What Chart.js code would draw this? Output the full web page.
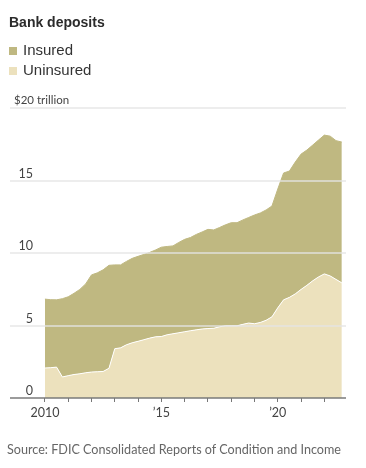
<!DOCTYPE html>
<html>
<head>
<meta charset="utf-8">
<script src="https://cdn.jsdelivr.net/npm/chart.js@4.4.1/dist/chart.umd.min.js"></script>
<style>
  body { margin: 0; background: #fff; }
  #box { position: relative; width: 366px; height: 468px; overflow: hidden; }
  #chart { position: absolute; left: 0; top: 0; }
  .title { position: absolute; left: 9px; top: 14px; font: bold 14px "Liberation Sans", Arial, sans-serif; color: #2b2b2b; }
  .legend { position: absolute; left: 9px; font: 15px "Liberation Sans", Arial, sans-serif; color: #333; }
  .legend span { display: inline-block; width: 8px; height: 8px; margin-right: 6px; vertical-align: 0px; }
  .source { position: absolute; left: 7px; top: 442px; font: 12.6px Lato, sans-serif; color: #666; white-space: nowrap; }
</style>
</head>
<body>
<div id="box">
  <canvas id="chart" width="366" height="468"></canvas>
  <div class="title">Bank deposits</div>
  <div class="legend" style="top:41px"><span style="background:#bfb881"></span>Insured</div>
  <div class="legend" style="top:61px"><span style="background:#ece1bd"></span>Uninsured</div>
  <div class="source">Source: FDIC Consolidated Reports of Condition and Income</div>
</div>
<script>
// quarterly, 2010 Q1 .. 2022 Q4 (trillions of dollars)
const quarters = [];
for (let yr = 2010; yr <= 2022; yr++) {
  for (let q = 0; q < 4; q++) quarters.push(yr + q / 4);
}

const uninsured = [
  2.07, 2.09, 2.13, 1.45, 1.54, 1.62, 1.67, 1.74, 1.79, 1.81, 1.83, 2.05,
  3.40, 3.46, 3.67, 3.81, 3.91, 4.02, 4.13, 4.22, 4.24, 4.36, 4.43, 4.50,
  4.57, 4.64, 4.70, 4.76, 4.79, 4.81, 4.91, 4.98, 4.98, 4.98, 5.08, 5.17,
  5.12, 5.21, 5.36, 5.60, 6.22, 6.77, 6.94, 7.18, 7.49, 7.77, 8.08, 8.35,
  8.56, 8.42, 8.18, 7.94
];

const insured = [
  4.75, 4.69, 4.64, 5.40, 5.44, 5.60, 5.82, 6.13, 6.70, 6.82, 7.01, 7.10,
  5.78, 5.72, 5.75, 5.82, 5.86, 5.88, 5.91, 5.99, 6.16, 6.09, 6.06, 6.23,
  6.37, 6.43, 6.58, 6.69, 6.84, 6.78, 6.85, 6.96, 7.11, 7.11, 7.20, 7.28,
  7.50, 7.55, 7.61, 7.64, 8.19, 8.75, 8.71, 9.09, 9.33, 9.33, 9.36, 9.44,
  9.57, 9.64, 9.57, 9.71
];

const yTicks = [0, 5, 10, 15, 20];
const yTickLabels = ["0", "5", "10", "15", "$20 trillion"];
const xTickYears = [2010, 2011, 2012, 2013, 2014, 2015, 2016, 2017, 2018, 2019, 2020, 2021, 2022];
const xTickLabels = { 2010: "2010", 2015: "\u201915", 2020: "\u201920" };

const axisFont = 'Lato, "Liberation Sans", sans-serif';

// gridlines sit on top of the areas, labels sit above their line
const gridOnTop = {
  id: "gridOnTop",
  afterDatasetsDraw(chart) {
    const { ctx, chartArea, scales } = chart;
    ctx.save();
    yTicks.forEach((v, i) => {
      const py = Math.round(scales.y.getPixelForValue(v));
      if (v === 0) {
        ctx.strokeStyle = "#7a7a7a";
      } else {
        ctx.strokeStyle = "rgba(228,228,228,0.9)";
      }
      ctx.lineWidth = 1.5;
      ctx.beginPath();
      ctx.moveTo(chartArea.left, py);
      ctx.lineTo(chartArea.right, py);
      ctx.stroke();

      ctx.fillStyle = "#444";
      ctx.textBaseline = "alphabetic";
      if (i === yTicks.length - 1) {
        ctx.font = "11.5px " + axisFont;
        ctx.textAlign = "left";
        ctx.fillText(yTickLabels[i], 14, py - 4);
      } else {
        ctx.font = "12.5px " + axisFont;
        ctx.textAlign = "right";
        ctx.fillText(yTickLabels[i], 33, py - 3);
      }
    });
    ctx.restore();
  }
};

new Chart(document.getElementById("chart"), {
  type: "line",
  data: {
    datasets: [
      {
        label: "Uninsured",
        data: quarters.map((x, i) => ({ x: x, y: uninsured[i] })),
        backgroundColor: "#ece1bd",
        borderColor: "#ffffff",
        borderWidth: 1,
        fill: "origin",
        pointRadius: 0,
        tension: 0
      },
      {
        label: "Insured",
        data: quarters.map((x, i) => ({ x: x, y: insured[i] })),
        backgroundColor: "#bfb881",
        borderColor: "#bfb881",
        borderWidth: 1,
        fill: "-1",
        pointRadius: 0,
        tension: 0
      }
    ]
  },
  options: {
    responsive: false,
    animation: false,
    layout: { padding: { left: 10, right: 20, top: 108, bottom: 45 } },
    plugins: { legend: { display: false }, tooltip: { enabled: false } },
    scales: {
      x: {
        type: "linear",
        min: 2008.5,
        max: 2022.93,
        afterBuildTicks: (scale) => { scale.ticks = xTickYears.map(v => ({ value: v })); },
        ticks: {
          autoSkip: false,
          maxRotation: 0,
          padding: 3,
          color: "#444",
          font: { family: axisFont, size: 12.5 },
          callback: (v) => xTickLabels[v] || ""
        },
        grid: { drawOnChartArea: false, drawTicks: true, tickLength: 4, color: "#777" },
        border: { display: false }
      },
      y: {
        display: false,
        stacked: true,
        min: 0,
        max: 20
      }
    }
  },
  plugins: [gridOnTop]
});
</script>
</body>
</html>
